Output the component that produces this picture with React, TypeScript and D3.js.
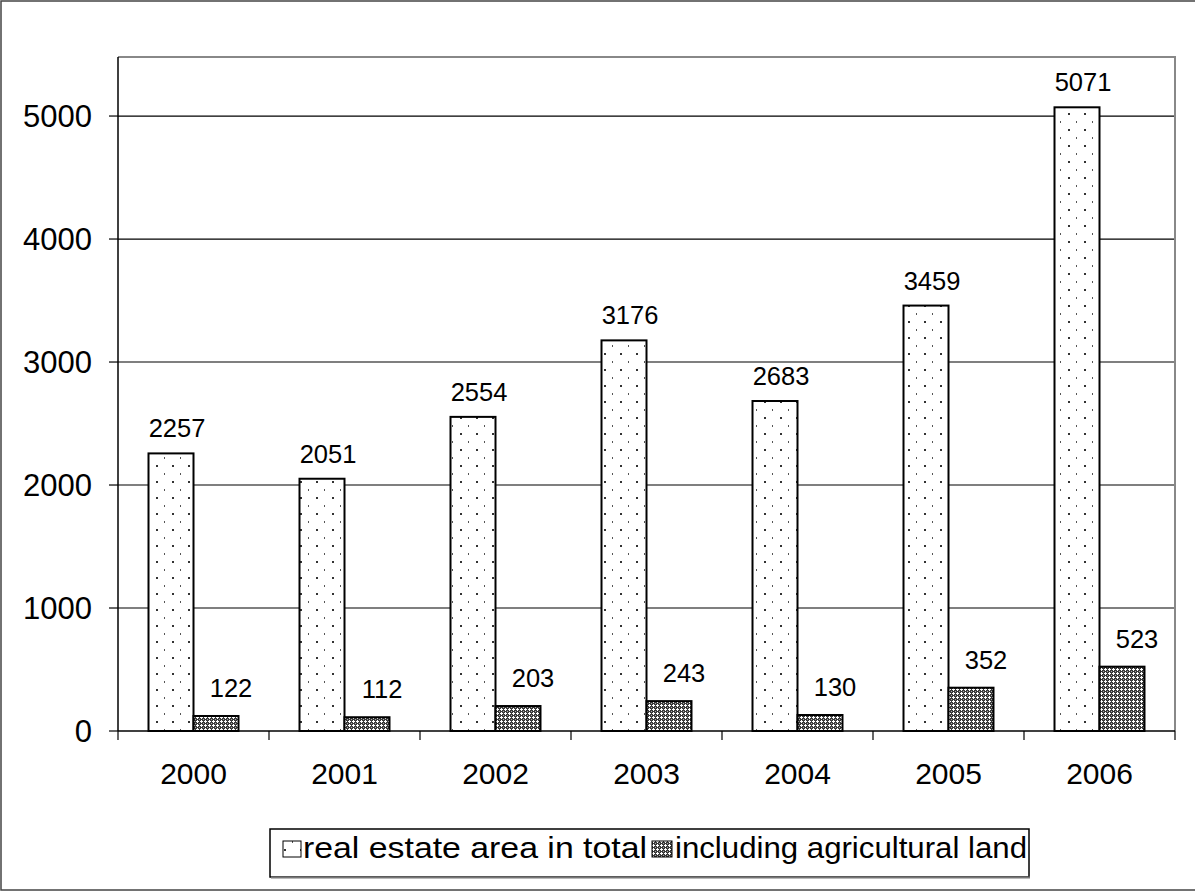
import * as d3 from "d3";

const years = ["2000", "2001", "2002", "2003", "2004", "2005", "2006"];
const seriesNames = ["real estate area in total", "including agricultural land"];
const totalArea = [2257, 2051, 2554, 3176, 2683, 3459, 5071];
const agriLand = [122, 112, 203, 243, 130, 352, 523];
const yTicks = [0, 1000, 2000, 3000, 4000, 5000];

const W = 1195;
const H = 892;
const font = "'Liberation Sans', Arial, sans-serif";

export default function App() {
  // plot area
  const left = 118;
  const right = 1175;
  const top = 57;
  const bottom = 731;

  const x = d3.scaleBand().domain(years).range([left, right]).padding(0);
  const inner = d3
    .scaleBand()
    .domain(["a", "b"])
    .range([0, x.bandwidth()])
    .paddingInner(0)
    .paddingOuter(0.678);
  const y = d3.scaleLinear().domain([0, 5480]).range([bottom, top]);

  const series = [
    { key: "a", values: totalArea, fill: "url(#dots)", dx: 6, lift: 16 },
    { key: "b", values: agriLand, fill: "url(#hatch)", dx: 15, lift: 19 },
  ];

  return (
    <svg
      width={W}
      height={H}
      style={{ position: "absolute", left: 0, top: 0, fontFamily: font }}
    >
      <defs>
        <pattern id="dots" width={16} height={16} patternUnits="userSpaceOnUse" x={149} y={1}>
          <rect width={16} height={16} fill="#fff" />
          <rect x={7} y={0} width={2} height={2} fill="#333" />
          <rect x={15} y={8} width={1} height={2} fill="#555" />
        </pattern>
        <pattern id="hatch" width={4} height={4} patternUnits="userSpaceOnUse">
          <rect width={4} height={4} fill="#3a3a3a" />
          <rect x={0} y={1} width={3} height={1} fill="#fff" />
          <rect x={1} y={0} width={1} height={3} fill="#fff" />
          <rect x={3} y={3} width={1} height={1} fill="#aaa" />
        </pattern>
      </defs>

      {/* chart frame */}
      <rect x={1} y={1} width={W} height={H - 3} fill="#fff" stroke="#444" strokeWidth={1.5} />

      {/* gridlines */}
      {yTicks.slice(1).map((t) => (
        <line key={t} x1={left} x2={right} y1={y(t)} y2={y(t)} stroke="#000" strokeWidth={1.2} />
      ))}

      {/* plot border (top / right) */}
      <polyline
        points={`${left},${top} ${right},${top} ${right},${bottom}`}
        fill="none"
        stroke="#888"
        strokeWidth={2}
      />

      {/* bars */}
      {series.map((s) =>
        years.map((yr, i) => {
          const bx = x(yr)! + inner(s.key)!;
          const by = y(s.values[i]);
          return (
            <rect
              key={s.key + yr}
              x={bx}
              y={by}
              width={inner.bandwidth()}
              height={bottom - by}
              fill={s.fill}
              stroke="#000"
              strokeWidth={2}
            />
          );
        })
      )}

      {/* data labels */}
      {series.map((s) =>
        years.map((yr, i) => (
          <text
            key={"l" + s.key + yr}
            x={x(yr)! + inner(s.key)! + inner.bandwidth() / 2 + s.dx}
            y={y(s.values[i]) - s.lift}
            textAnchor="middle"
            fontSize={25.5}
            fill="#000"
          >
            {s.values[i]}
          </text>
        ))
      )}

      {/* y axis */}
      <line x1={left} x2={left} y1={top} y2={bottom} stroke="#000" strokeWidth={1.5} />
      {yTicks.map((t) => (
        <g key={"yt" + t}>
          <line x1={left - 9} x2={left} y1={y(t)} y2={y(t)} stroke="#000" strokeWidth={1.2} />
          <text x={92} y={y(t) + 11} textAnchor="end" fontSize={31} fill="#000">
            {t}
          </text>
        </g>
      ))}

      {/* x axis */}
      <line x1={left} x2={right} y1={bottom} y2={bottom} stroke="#000" strokeWidth={1.5} />
      {years.map((yr) => (
        <line
          key={"xt" + yr}
          x1={x(yr)!}
          x2={x(yr)!}
          y1={bottom}
          y2={bottom + 9}
          stroke="#000"
          strokeWidth={1.2}
        />
      ))}
      <line x1={right} x2={right} y1={bottom} y2={bottom + 9} stroke="#000" strokeWidth={1.2} />
      {years.map((yr) => (
        <text
          key={"xl" + yr}
          x={x(yr)! + x.bandwidth() / 2}
          y={784}
          textAnchor="middle"
          fontSize={30}
          fill="#000"
        >
          {yr}
        </text>
      ))}

      {/* legend */}
      <rect x={270} y={829} width={759} height={48} fill="#fff" stroke="#000" strokeWidth={1.5} />
      <line x1={271} x2={1030} y1={877.5} y2={877.5} stroke="#777" strokeWidth={2} />
      <rect x={283} y={841} width={18} height={16} fill="url(#dots)" stroke="#000" strokeWidth={1} />
      <text x={303} y={858} fontSize={30} fill="#000" textLength={344} lengthAdjust="spacingAndGlyphs">
        {seriesNames[0]}
      </text>
      <rect x={652} y={841} width={20} height={16} fill="url(#hatch)" stroke="#000" strokeWidth={1} />
      <text x={675} y={858} fontSize={30} fill="#000" textLength={352} lengthAdjust="spacingAndGlyphs">
        {seriesNames[1]}
      </text>
    </svg>
  );
}
